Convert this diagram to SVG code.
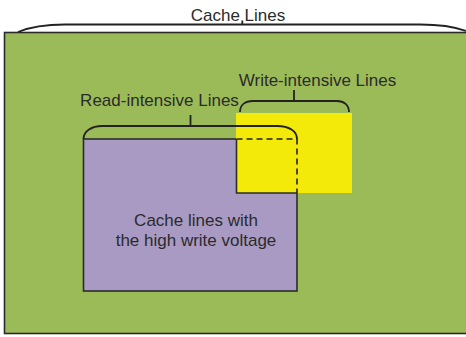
<svg xmlns="http://www.w3.org/2000/svg" width="466" height="337" viewBox="0 0 466 337">
<style>
.lbl{font-family:"Liberation Sans",Arial,sans-serif;font-size:17px;fill:#2b2b2b;text-anchor:middle}
.box{stroke:#2b2b2b;stroke-width:1.6}
.brace{fill:none;stroke:#222;stroke-width:1.8}
.dash{fill:none;stroke:#222;stroke-width:1.6;stroke-dasharray:6 4}
</style>
<rect width="466" height="337" fill="#ffffff"/>
<g id="cache-lines">
<rect class="box" x="4.5" y="32.5" width="470" height="301" fill="#9BBB59"/>
<text class="lbl" x="238" y="20.5">Cache Lines</text>
</g>
<g id="read-intensive">
<rect class="box" x="83.5" y="139" width="213.5" height="152" fill="#A99AC3"/>
<text class="lbl" x="159.5" y="105.5">Read-intensive Lines</text>
</g>
<g id="write-intensive">
<rect x="236" y="113" width="116" height="80" fill="#F3EA0A"/>
<text class="lbl" x="317.5" y="86">Write-intensive Lines</text>
</g>
<g id="overlap">
<path class="box" fill="none" d="M236.5,139 L236.5,193 L297,193"/>
<path class="dash" d="M236.5,139 L297,139 L297,193"/>
<text class="lbl" x="196" y="226">Cache lines with</text>
<text class="lbl" x="196" y="246">the high write voltage</text>
</g>
<g id="connectors">
<path class="brace" d="M18,32 C30,27 45,24.5 65,24.5 L420,24.5 C440,24.5 455,27 466,31"/>
<path class="brace" d="M242.3,20.5 L242.3,25"/>
<path class="brace" d="M83.5,139 C83.5,131 92,126 102,126 L277,126 C289,126 297,131 297,139"/>
<path class="brace" d="M190.5,115 L190.5,126"/>
<path class="brace" d="M240,112 C240,105 245,101 253,101 L337,101 C344,101 349,105 349,112"/>
<path class="brace" d="M294,90 L294,101"/>
</g>
</svg>
